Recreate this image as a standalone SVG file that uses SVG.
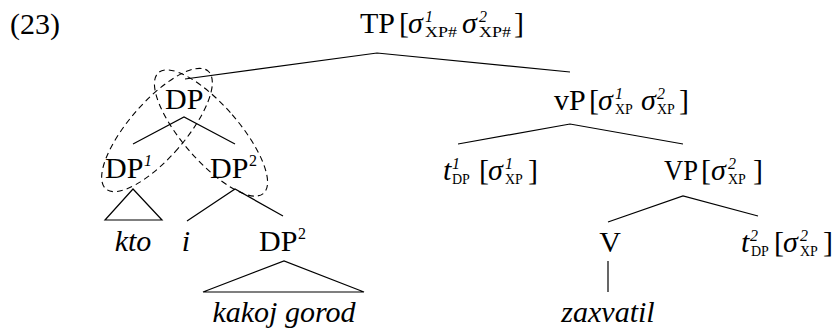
<svg xmlns="http://www.w3.org/2000/svg" width="835" height="328" viewBox="0 0 835 328">
<style>
.t{font-family:"Liberation Serif","Times New Roman",serif;font-size:30px;fill:#000}
.i{font-style:italic}
.m{text-anchor:middle}
.sup{font-size:16px}
.sub{font-size:14px;font-style:normal}
.ln{stroke:#000;stroke-width:1.2;fill:none}
.loop{stroke:#000;stroke-width:1.1;fill:none;stroke-dasharray:6 4}
</style>
<rect width="835" height="328" fill="#fff"/>
<text class="t" x="10" y="34">(23)</text>
<g id="connectors">
<polyline class="ln" points="185,79 377,53 570,72"/>
<polyline class="ln" points="133,144 184,117 235,144"/>
<polyline class="ln" points="458,144 570,124 683,144"/>
<polygon class="ln" points="105,220 133,189 162,220"/>
<polyline class="ln" points="187,221 235,189 283,216"/>
<polyline class="ln" points="608,222 683,196 758,216"/>
<polygon class="ln" points="203,292 284,261 364,292"/>
<line class="ln" x1="608" y1="261" x2="608" y2="292"/>
</g>
<g id="loops">
<ellipse class="loop" cx="157" cy="130" rx="28" ry="78" transform="rotate(41 157 130)"/>
<ellipse class="loop" cx="211" cy="133" rx="28" ry="80" transform="rotate(-41 211 133)"/>
</g>
<g id="TP"><text class="t" y="33"><tspan x="360">TP</tspan><tspan x="399">[</tspan><tspan x="408" class="i">σ</tspan><tspan x="425" y="22" class="sup i">1</tspan><tspan x="425" y="37" class="sub" textLength="32" lengthAdjust="spacingAndGlyphs">XP#</tspan><tspan x="462" y="33" class="i">σ</tspan><tspan x="479" y="22" class="sup i">2</tspan><tspan x="479" y="37" class="sub" textLength="32" lengthAdjust="spacingAndGlyphs">XP#</tspan><tspan x="514" y="33">]</tspan></text></g>
<g id="DP"><text class="t" x="165" y="109">DP</text></g>
<g id="vP"><text class="t" y="110"><tspan x="554">vP</tspan><tspan x="589">[</tspan><tspan x="598" class="i">σ</tspan><tspan x="615" y="99" class="sup i">1</tspan><tspan x="615" y="114" class="sub">XP</tspan><tspan x="641" y="110" class="i">σ</tspan><tspan x="657" y="99" class="sup i">2</tspan><tspan x="657" y="114" class="sub">XP</tspan><tspan x="679" y="110">]</tspan></text></g>
<g id="DP1"><text class="t" y="178"><tspan x="105">DP</tspan><tspan x="144" y="166" class="sup i">1</tspan></text></g>
<g id="DP2a"><text class="t" y="178"><tspan x="210">DP</tspan><tspan x="249" y="166" class="sup">2</tspan></text></g>
<g id="t1"><text class="t" y="180"><tspan x="443" class="i">t</tspan><tspan x="452" y="169" class="sup i">1</tspan><tspan x="452" y="184" class="sub">DP</tspan><tspan x="479" y="180">[</tspan><tspan x="488" class="i">σ</tspan><tspan x="505" y="169" class="sup i">1</tspan><tspan x="505" y="184" class="sub">XP</tspan><tspan x="528" y="180">]</tspan></text></g>
<g id="VP"><text class="t" y="180"><tspan x="664" textLength="34" lengthAdjust="spacingAndGlyphs">VP</tspan><tspan x="701">[</tspan><tspan x="711" class="i">σ</tspan><tspan x="728" y="169" class="sup i">2</tspan><tspan x="728" y="184" class="sub">XP</tspan><tspan x="753" y="180">]</tspan></text></g>
<g id="kto"><text class="t i m" x="133" y="251">kto</text></g>
<g id="i"><text class="t i m" x="186" y="251">i</text></g>
<g id="DP2b"><text class="t" y="251"><tspan x="259">DP</tspan><tspan x="298" y="239" class="sup">2</tspan></text></g>
<g id="V"><text class="t m" x="610" y="252">V</text></g>
<g id="t2"><text class="t" y="252"><tspan x="741" class="i">t</tspan><tspan x="750" y="241" class="sup i">2</tspan><tspan x="751" y="256" class="sub">DP</tspan><tspan x="774" y="252">[</tspan><tspan x="783" class="i">σ</tspan><tspan x="800" y="241" class="sup i">2</tspan><tspan x="800" y="256" class="sub">XP</tspan><tspan x="823" y="252">]</tspan></text></g>
<g id="kakoj"><text class="t i m" x="284" y="322">kakoj gorod</text></g>
<g id="zaxvatil"><text class="t i m" x="608" y="322">zaxvatil</text></g>
</svg>
